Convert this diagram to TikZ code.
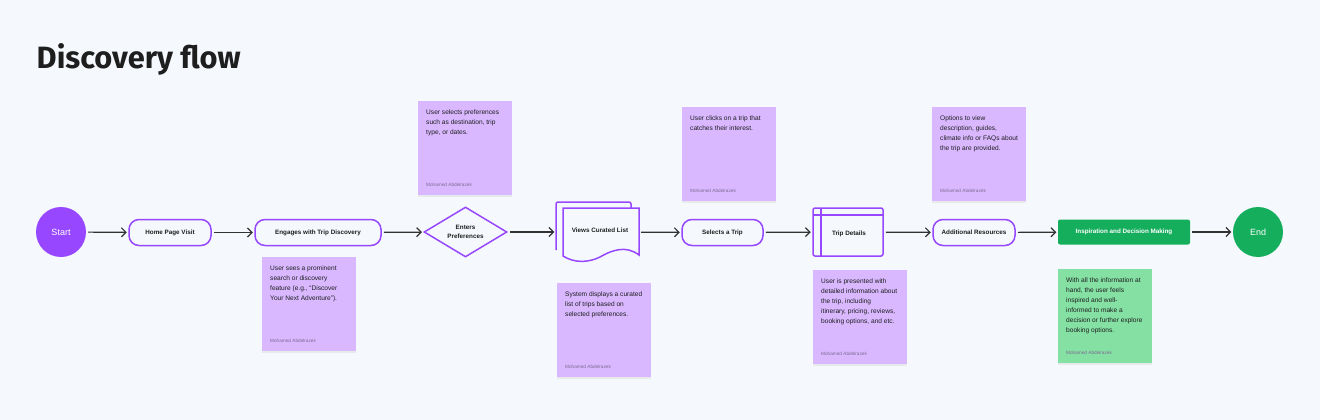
\documentclass[tikz,border=0pt]{standalone}
\usepackage{fontspec}
\setmainfont{Liberation Sans}
\newfontfamily\titlefont{Fira Sans}
\usetikzlibrary{shapes.geometric,arrows.meta,shadows}
\definecolor{bgc}{HTML}{F5F9FD}
\definecolor{purp}{HTML}{9747FF}
\definecolor{stickp}{HTML}{D9B8FF}
\definecolor{grn}{HTML}{14AE5C}
\definecolor{stickg}{HTML}{85E0A3}
\definecolor{txt}{HTML}{1E1E1E}
\definecolor{arrowc}{HTML}{333333}
\definecolor{authc}{HTML}{7E6A92}
\tikzset{
  pill/.style={draw=purp, line width=1.5pt, rounded corners=10pt, fill=bgc, minimum height=26pt, inner sep=0pt, font=\bfseries\fontsize{6.3}{8}\selectfont, text=txt},
  lbl/.style={inner sep=0pt, font=\bfseries\fontsize{6.3}{8.5}\selectfont, text=txt, align=center},
  shp/.style={draw=purp, line width=1.5pt, fill=bgc},
  flow/.style={draw=arrowc, line width=1.2pt, -{Straight Barb[length=4.5pt,width=9pt]}, shorten <=2pt, shorten >=1.5pt},
  note/.style={minimum width=94pt, minimum height=94pt, inner sep=0pt, drop shadow={shadow xshift=0pt, shadow yshift=-1.5pt, opacity=0.12}},
  notetext/.style={inner sep=0pt, align=left, font=\fontsize{6.6}{10}\selectfont, text=txt},
  noteauthor/.style={inner sep=0pt, font=\fontsize{4.7}{5}\selectfont, text=authc},
  endpt/.style={circle, minimum size=50pt, inner sep=0pt, text=white, font=\fontsize{9}{10}\selectfont}
}
\newcommand\mysticky[5]{%
  \node[note, fill=#4, anchor=north west] (#1) at (#2,#3) {};
  \node[notetext, anchor=north west] (#1txt) at ([xshift=8pt,yshift=-9pt]#1.north west) {#5};
  \node[noteauthor, anchor=south west] (#1auth) at ([xshift=8pt,yshift=9pt]#1.south west) {Mohamed Abdelrazek};
}
\begin{document}
\begin{tikzpicture}[x=1pt,y=-1pt]
\useasboundingbox[fill=bgc] (0,0) rectangle (1320,420);

% title
\node[anchor=base west, inner sep=0pt, text=txt, font=\titlefont\bfseries\fontsize{30.8}{33}\selectfont] (title) at (36.5,69) {Discovery flow};

% sticky notes
\mysticky{n1}{262}{257}{stickp}{User sees a prominent\\search or discovery\\feature (e.g., “Discover\\Your Next Adventure”).}
\mysticky{n2}{418}{101}{stickp}{User selects preferences\\such as destination, trip\\type, or dates.}
\mysticky{n3}{557}{283}{stickp}{System displays a curated\\list of trips based on\\selected preferences.}
\mysticky{n4}{682}{107}{stickp}{User clicks on a trip that\\catches their interest.}
\mysticky{n5}{813}{270}{stickp}{User is presented with\\detailed information about\\the trip, including\\itinerary, pricing, reviews,\\booking options, and etc.}
\mysticky{n6}{932}{107}{stickp}{Options to view\\description, guides,\\climate info or FAQs about\\the trip are provided.}
\mysticky{n7}{1058}{269}{stickg}{With all the information at\\hand, the user feels\\inspired and well-\\informed to make a\\decision or further explore\\booking options.}

% main flow nodes
\node[endpt, fill=purp] (start) at (61,232) {Start};
\node[pill, minimum width=82pt] (home) at (170,232.5) {Home Page Visit};
\node[pill, minimum width=126pt] (engage) at (318,232.5) {Engages with Trip Discovery};
\node[diamond, shp, minimum width=83pt, minimum height=50pt, aspect=1.66, inner sep=0pt, lbl] (pref) at (465.5,232) {Enters\\[1pt]Preferences};

% views curated list (multi-document)
\node[minimum width=83pt, minimum height=60pt, inner sep=0pt] (views) at (597.5,232) {};
\draw[shp, rounded corners=2pt] (556,250) -- (556,202) -- (631,202) -- (631,250);
\draw[shp] (563,256) -- (563,208) -- (639,208) -- (639,255)
  .. controls (626,245) and (612,250) .. (600,257)
  .. controls (588,263) and (574,263) .. (563,256) -- cycle;
\node[lbl] (viewslbl) at (600,230) {Views Curated List};

\node[pill, minimum width=81pt] (select) at (722.5,232.5) {Selects a Trip};

% trip details (internal storage)
\node[shp, rounded corners=2pt, minimum width=70pt, minimum height=48pt, inner sep=0pt] (details) at (848,232) {};
\draw[draw=purp, line width=1.5pt] (821,208) -- (821,256);
\draw[draw=purp, line width=1.5pt] (813,215) -- (883,215);
\node[lbl] (detailslbl) at (849,234) {Trip Details};

\node[pill, minimum width=82pt] (addl) at (974,232.5) {Additional Resources};
\node[fill=grn, rounded corners=2pt, minimum width=132pt, minimum height=25pt, inner sep=0pt, text=white, font=\bfseries\fontsize{6.3}{8}\selectfont] (insp) at (1124,232) {Inspiration and Decision Making};
\node[endpt, fill=grn] (end) at (1258,232) {End};

% connectors
\draw[flow] (start) -- (home);
\draw[flow] (home) -- (engage);
\draw[flow] (engage) -- (pref);
\draw[flow] (pref) -- (views);
\draw[flow] (views) -- (select);
\draw[flow] (select) -- (details);
\draw[flow] (details) -- (addl);
\draw[flow] (addl) -- (insp);
\draw[flow] (insp) -- (end);
\end{tikzpicture}
\end{document}
